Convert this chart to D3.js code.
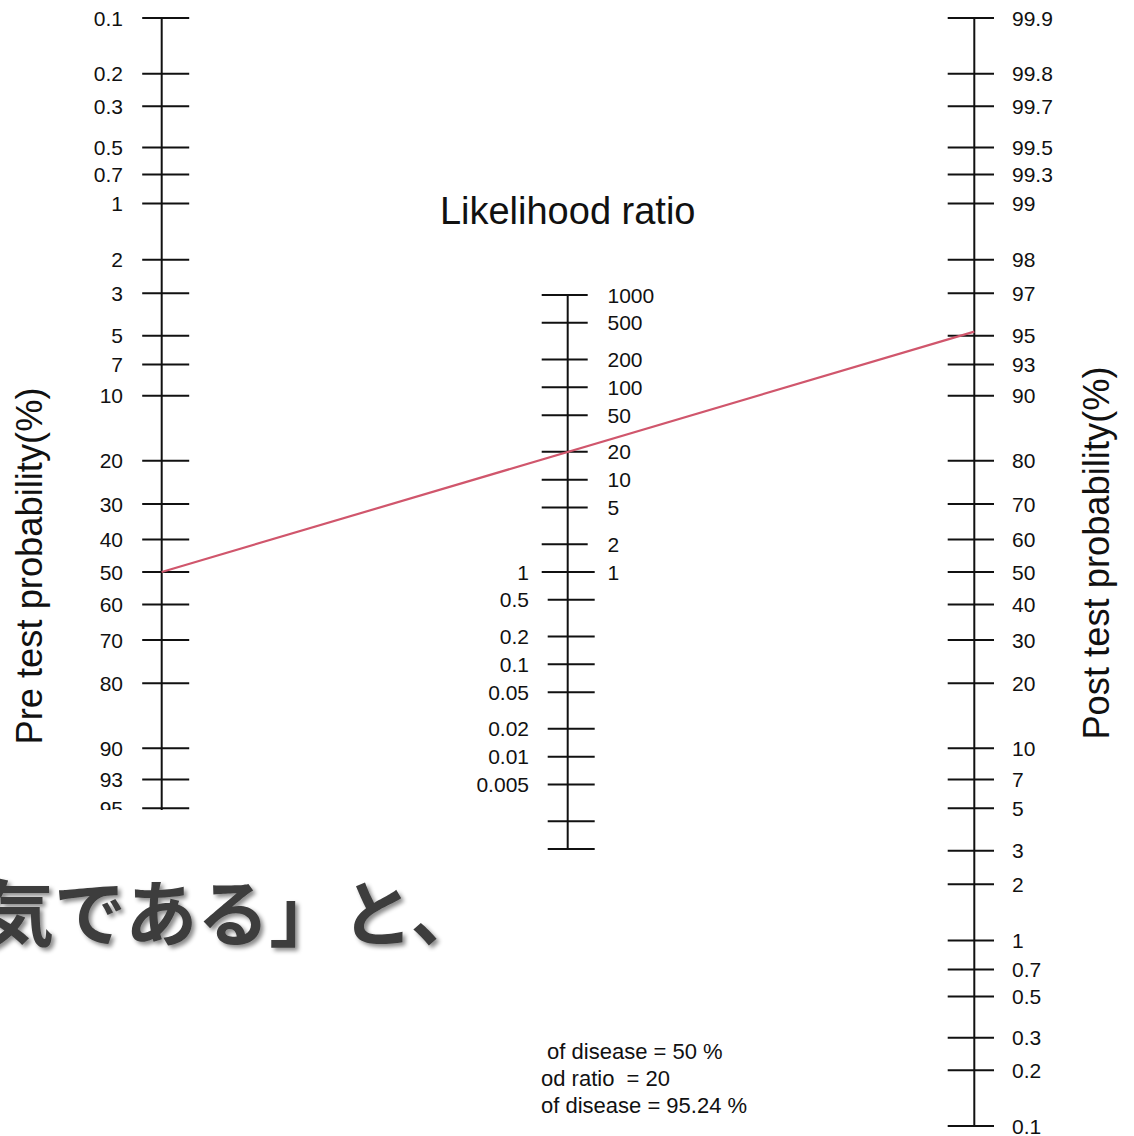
<!DOCTYPE html>
<html>
<head>
<meta charset="utf-8">
<script src="https://cdn.jsdelivr.net/npm/d3@7"></script>
<style>
  html, body { margin: 0; padding: 0; background: #fff; }
  svg { display: block; font-family: "Liberation Sans", Arial, sans-serif; }
</style>
</head>
<body>
<svg id="chart" width="1134" height="1136"></svg>
<script>
// Fagan nomogram: pre-test probability, likelihood ratio, post-test probability
const probTicks = [0.1, 0.2, 0.3, 0.5, 0.7, 1, 2, 3, 5, 7, 10, 20, 30, 40, 50, 60, 70, 80,
                   90, 93, 95, 97, 98, 99, 99.3, 99.5, 99.7, 99.8, 99.9];
const lrTicks = [1000, 500, 200, 100, 50, 20, 10, 5, 2, 1, 0.5, 0.2, 0.1, 0.05, 0.02, 0.01,
                 0.005, 0.002, 0.001];
const lrUpperLabels = [1000, 500, 200, 100, 50, 20, 10, 5, 2, 1];
const lrLowerLabels = [1, 0.5, 0.2, 0.1, 0.05, 0.02, 0.01, 0.005];
const preTest = 50;       // %
const likelihoodRatio = 20;
const postTest = 95.24;   // %
const summaryLines = [" of disease = 50 %", "od ratio  = 20", "of disease = 95.24 %"];
const overlayText = "気である」と、";

const svg = d3.select("#chart");
const logit = p => Math.log((p / 100) / (1 - p / 100));

const xPre = 161.7, xLR = 567.7, xPost = 974.3;
const yTop = 18, yBottom = 1126;

// logit scales for the outer axes, log scale (half slope) for the LR axis
const preScale = d3.scaleLinear().domain([logit(0.1), logit(99.9)]).range([yTop, yBottom]);
const postScale = d3.scaleLinear().domain([logit(99.9), logit(0.1)]).range([yTop, yBottom]);
const yPre = p => preScale(logit(p));
const yPost = p => postScale(logit(p));
const yLR = d3.scaleLog().domain([1000, 0.001]).range([295, 849]);

const ink = "#111";
const tickFont = 21;

function drawAxis(x, scale, ticks, tickSpan, domainVals) {
  const g = svg.append("g");
  g.append("line")
    .attr("x1", x).attr("x2", x)
    .attr("y1", scale(domainVals[0])).attr("y2", scale(domainVals[1]))
    .attr("stroke", ink).attr("stroke-width", 2);
  g.selectAll("line.tick").data(ticks).join("line")
    .attr("class", "tick")
    .attr("x1", d => x + tickSpan(d)[0]).attr("x2", d => x + tickSpan(d)[1])
    .attr("y1", d => scale(d)).attr("y2", d => scale(d))
    .attr("stroke", ink).attr("stroke-width", 2);
  return g;
}

function drawLabels(x, scale, vals, anchor) {
  svg.append("g").selectAll("text").data(vals).join("text")
    .attr("x", x).attr("y", d => scale(d))
    .attr("dy", "0.36em")
    .attr("text-anchor", anchor)
    .attr("font-size", tickFont)
    .attr("fill", ink)
    .text(d => d3.format("~g")(d));
}

// pre-test axis (left)
drawAxis(xPre, yPre, probTicks, () => [-19.5, 27.5], [0.1, 99.9]);
drawLabels(123, yPre, probTicks, "end");

// likelihood ratio axis (middle)
drawAxis(xLR, yLR, lrTicks, d => d > 1 ? [-26, 20] : d < 1 ? [-20, 27] : [-26, 27], [1000, 0.001]);
drawLabels(607.5, yLR, lrUpperLabels, "start");
drawLabels(529, yLR, lrLowerLabels, "end");

// post-test axis (right)
drawAxis(xPost, yPost, probTicks, () => [-26.6, 19.7], [99.9, 0.1]);
drawLabels(1012, yPost, probTicks, "start");

// titles
svg.append("text")
  .attr("x", xLR).attr("y", 224)
  .attr("text-anchor", "middle")
  .attr("font-size", 38).attr("fill", ink)
  .text("Likelihood ratio");

svg.append("text")
  .attr("transform", "translate(42,566) rotate(-90)")
  .attr("text-anchor", "middle")
  .attr("font-size", 36.3).attr("fill", ink)
  .text("Pre test probability(%)");

svg.append("text")
  .attr("transform", "translate(1109,553) rotate(-90)")
  .attr("text-anchor", "middle")
  .attr("font-size", 36.3).attr("fill", ink)
  .text("Post test probability(%)");

// line joining pre-test probability through the likelihood ratio to post-test probability
svg.append("line")
  .attr("x1", xPre).attr("y1", yPre(preTest))
  .attr("x2", xPost).attr("y2", yPost(postTest))
  .attr("stroke", "#d0566c").attr("stroke-width", 2.2);

// white panel over the lower left
svg.append("rect")
  .attr("x", 0).attr("y", 810).attr("width", 541).attr("height", 326)
  .attr("fill", "#fff");

// result summary
svg.append("g").selectAll("text").data(summaryLines).join("text")
  .attr("x", 541)
  .attr("y", (d, i) => 1059 + i * 27)
  .attr("font-size", 22).attr("fill", ink)
  .attr("xml:space", "preserve")
  .style("white-space", "pre")
  .text(d => d);

// caption with a soft shadow
const defs = svg.append("defs");
const f = defs.append("filter").attr("id", "shadow")
  .attr("x", "-10%").attr("y", "-20%").attr("width", "130%").attr("height", "150%");
f.append("feDropShadow").attr("dx", 3).attr("dy", 3).attr("stdDeviation", 2)
  .attr("flood-color", "#000").attr("flood-opacity", 0.45);

svg.append("text")
  .attr("x", -18).attr("y", 940)
  .attr("font-family", "'Noto Sans CJK JP', sans-serif")
  .attr("font-weight", 700)
  .attr("font-size", 72)
  .attr("fill", "#3d3d3d")
  .attr("filter", "url(#shadow)")
  .text(overlayText);
</script>
</body>
</html>
